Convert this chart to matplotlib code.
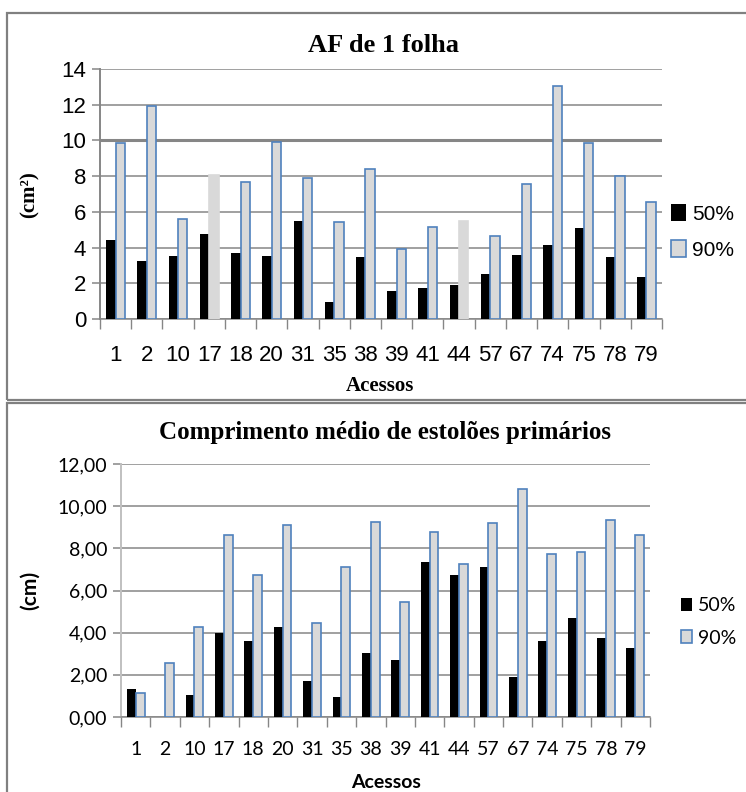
import matplotlib
matplotlib.use("Agg")
import matplotlib.pyplot as plt
import numpy as np
from matplotlib.patches import Rectangle

# Acessos avaliados
acessos = ["1", "2", "10", "17", "18", "20", "31", "35", "38", "39",
           "41", "44", "57", "67", "74", "75", "78", "79"]
series = ["50%", "90%"]

# Área foliar de 1 folha (cm²)
af_50 = [4.44, 3.27, 3.55, 4.78, 3.71, 3.55, 5.47, 0.97, 3.49, 1.59,
         1.75, 1.89, 2.54, 3.60, 4.16, 5.11, 3.49, 2.37]
af_90 = [9.86, 11.93, 5.60, 8.06, 7.67, 9.91, 7.90, 5.43, 8.40, 3.92,
         5.15, 5.51, 4.65, 7.56, 13.05, 9.86, 8.03, 6.55]

# Comprimento médio de estolões primários (cm)
comp_50 = [1.33, 0.0, 1.04, 4.00, 3.61, 4.27, 1.71, 0.95, 3.04, 2.71,
           7.36, 6.74, 7.12, 1.90, 3.61, 4.70, 3.75, 3.28]
comp_90 = [1.12, 2.56, 4.26, 8.64, 6.73, 9.10, 4.45, 7.11, 9.24, 5.45,
           8.77, 7.25, 9.20, 10.81, 7.73, 7.82, 9.34, 8.63]

W, H = 746, 792
CINZA = "#d9d9d9"
AZUL = "#4f81bd"
GRADE = "#868686"


def px(x0, y0, x1, y1):
    # caixa em pixels (origem no topo) -> coordenadas da figura
    return [x0 / W, 1 - y1 / H, (x1 - x0) / W, (y1 - y0) / H]


fig = plt.figure(figsize=(W / 100, H / 100), dpi=100)

# molduras dos dois quadros
for y0, y1 in [(13, 400), (403, 800)]:
    fig.add_artist(Rectangle((7 / W, 1 - y1 / H), 1.0, (y1 - y0) / H,
                             transform=fig.transFigure, fill=False,
                             edgecolor="#808080", linewidth=1.6))


def grafico(ax, v50, v90, ymax, passo, fmt, fonte, tam_y, tam_x, yaxis_cor,
            borda90, pad_x):
    x = np.arange(len(acessos))
    w = 0.3
    ax.set_axisbelow(True)
    ax.bar(x - w / 2, v50, w, color="black", label=series[0], zorder=3)
    ax.bar(x + w / 2, v90, w, color=CINZA, edgecolor=borda90,
           linewidth=1.2, label=series[1], zorder=3)
    ax.set_xlim(-0.5, len(acessos) - 0.5)
    ax.set_ylim(0, ymax)
    yt = np.arange(0, ymax + passo / 2, passo)
    ax.set_yticks(yt)
    ax.set_yticklabels([fmt(v) for v in yt], family=fonte, fontsize=tam_y)
    ax.yaxis.grid(True, color=GRADE, linewidth=1.1)
    ax.tick_params(axis="y", length=6, color=GRADE, width=1.1, pad=4)
    # marcas entre categorias
    ax.set_xticks(np.arange(len(acessos) + 1) - 0.5, minor=True)
    ax.set_xticks(x)
    ax.set_xticklabels(acessos, family=fonte, fontsize=tam_x)
    ax.tick_params(axis="x", which="major", length=0, pad=pad_x)
    ax.tick_params(axis="x", which="minor", length=7, color=GRADE, width=1)
    for lado in ["top", "right"]:
        ax.spines[lado].set_visible(False)
    ax.spines["bottom"].set_color(GRADE)
    ax.spines["bottom"].set_linewidth(1.1)
    ax.spines["left"].set_color(yaxis_cor)
    ax.spines["left"].set_linewidth(1.4)


# --- AF de 1 folha ---
ax1 = fig.add_axes(px(100, 69, 662, 319))
borda_af = [AZUL] * len(acessos)
borda_af[3] = CINZA
borda_af[11] = CINZA
grafico(ax1, af_50, af_90, 14, 2, lambda v: f"{v:.0f}",
        "Liberation Sans", 16, 16, GRADE, borda_af, 19)
ax1.axhline(10, color=GRADE, linewidth=2.2, zorder=1)
fig.text(383 / W, 1 - 45 / H, "AF de 1 folha", ha="center", va="center",
         family="Liberation Serif", fontweight="bold", fontsize=19)
fig.text(30 / W, 1 - 195 / H, "(cm²)", ha="center", va="center",
         rotation=90, family="Liberation Serif", fontweight="bold",
         fontsize=15)
fig.text(380 / W, 1 - 386 / H, "Acessos", ha="center", va="center",
         family="Liberation Serif", fontweight="bold", fontsize=15)
ax1.legend(loc="center left", bbox_to_anchor=(671 / W, 1 - 232 / H),
           bbox_transform=fig.transFigure, frameon=False,
           prop={"family": "Liberation Sans", "size": 15},
           borderpad=0, borderaxespad=0,
           handlelength=0.7, handleheight=0.85, handletextpad=0.3,
           labelspacing=0.8)

# --- Comprimento médio de estolões primários ---
ax2 = fig.add_axes(px(121, 464, 650, 717))
grafico(ax2, comp_50, comp_90, 12, 2, lambda v: f"{v:.2f}".replace(".", ","),
        "Lato", 14, 14, "#c0c0c0", AZUL, 17)
fig.text(385 / W, 1 - 433 / H, "Comprimento médio de estolões primários",
         ha="center", va="center", family="Liberation Serif",
         fontweight="bold", fontsize=18)
fig.text(30 / W, 1 - 590 / H, "(cm)", ha="center", va="center",
         rotation=90, family="Lato", fontweight="bold", fontsize=15)
fig.text(386 / W, 1 - 782 / H, "Acessos", ha="center", va="center",
         family="Lato", fontweight="bold", fontsize=14)
ax2.legend(loc="center left", bbox_to_anchor=(681 / W, 1 - 622 / H),
           bbox_transform=fig.transFigure, frameon=False,
           prop={"family": "Lato", "size": 14},
           borderpad=0, borderaxespad=0,
           handlelength=0.55, handleheight=0.65, handletextpad=0.3,
           labelspacing=0.8)

fig.savefig("out.png", dpi=100)
